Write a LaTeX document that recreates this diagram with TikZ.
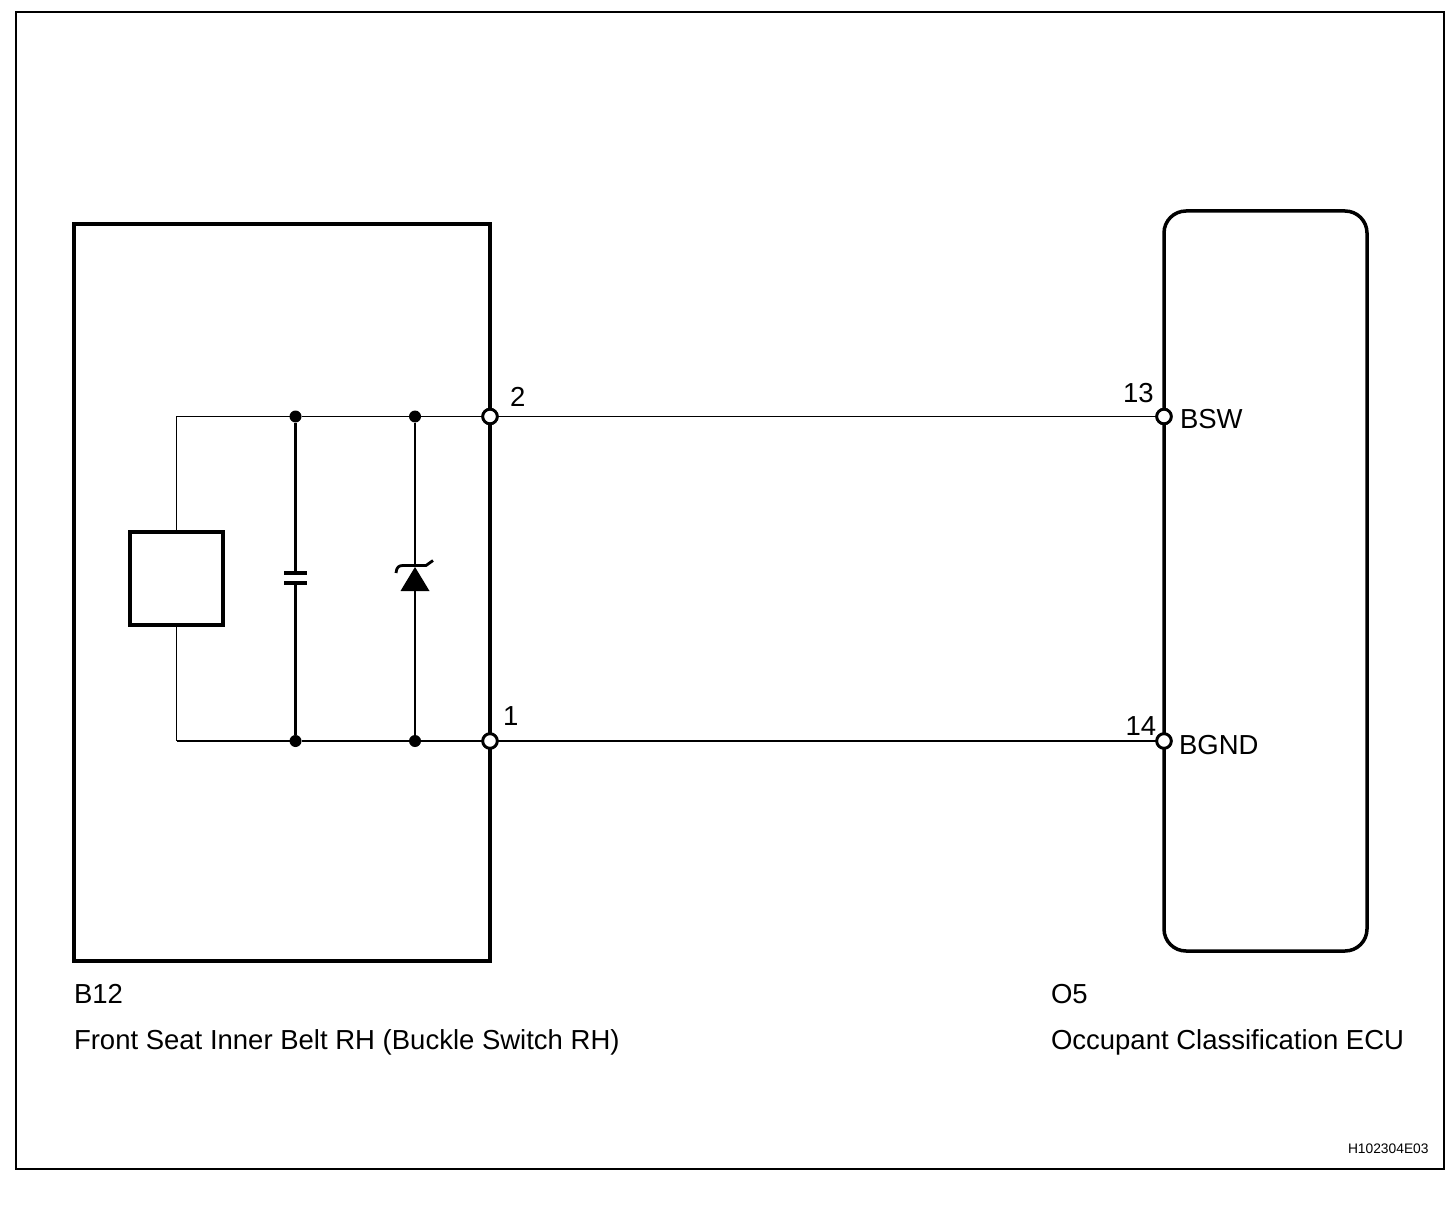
\documentclass[tikz,border=0pt]{standalone}
\usepackage{fontspec}
\setmainfont{Liberation Sans}
\begin{document}
\begin{tikzpicture}[x=1pt,y=-1pt,
  box/.style={draw=black,line width=3.5pt,inner sep=0pt,outer sep=0pt,anchor=north west},
  wirethin/.style={draw=black,line width=1.2pt},
  wirethick/.style={draw=black,line width=2.2pt},
  junction/.style={circle,fill=black,draw=none,minimum size=12pt,inner sep=0pt,outer sep=0pt},
  terminal/.style={circle,fill=white,draw=black,line width=2.8pt,minimum size=14.5pt,inner sep=0pt,outer sep=0pt},
  lbl/.style={anchor=base west,inner sep=0pt,outer sep=0pt,font=\fontsize{27.5}{30}\selectfont},
  tiny/.style={anchor=base west,inner sep=0pt,outer sep=0pt,font=\fontsize{13.8}{16}\selectfont},
  anchorpt/.style={inner sep=0pt,outer sep=0pt,minimum size=0pt}]
\useasboundingbox (0,0) rectangle (1456,1214);
\node[box,line width=2.2pt,minimum width=1428pt,minimum height=1157pt] (frame) at (16,12) {};

\coordinate (tl) at (176.5,416.5);
\coordinate (bl) at (176.5,741);
\node[box,minimum width=416pt,minimum height=737pt] (b12) at (74,224) {};
\node[box,rounded corners=22pt,minimum width=203pt,minimum height=740pt] (o5) at (1164,211) {};
\node[box,minimum width=93pt,minimum height=93pt] (sensor) at (130,532) {};

\node[junction] (j1) at (295.5,416.5) {};
\node[junction] (j2) at (415,416.5) {};
\node[junction] (j3) at (295.5,741) {};
\node[junction] (j4) at (415,741) {};
\node[terminal] (t2) at (490,416.5) {};
\node[terminal] (t1) at (490,741) {};
\node[terminal] (t13) at (1164,416.5) {};
\node[terminal] (t14) at (1164,741) {};

% capacitor plates
\node[anchorpt] (capa) at (295.5,573) {};
\node[anchorpt] (capb) at (295.5,583) {};
\draw[line width=3.5pt] (284,573) -- (307,573);
\draw[line width=3.5pt] (284,583) -- (307,583);
% zener
\node[anchorpt] (zbar) at (415,565) {};
\node[anchorpt] (zbase) at (415,590) {};
\fill (415,567) -- (429.5,591) -- (400.5,591) -- cycle;
\draw[line width=2.8pt] (396,573) .. controls (396.5,567) and (399,565.5) .. (403,565.5) -- (426,565.5) -- (433,560.5);

\draw[wirethin] (sensor.north -| tl) -- (tl) -- (j1) -- (j2) -- (t2) -- (t13);
\draw[wirethick] (bl) -- (j3) -- (j4) -- (t1) -- (t14);
\draw[wirethin] (sensor.south -| bl) -- (bl);
\draw[wirethick] (j1) -- (capa);
\draw[wirethick] (capb) -- (j3);
\draw[wirethick] (j2) -- (zbar);
\draw[wirethick] (zbase) -- (j4);

% terminals over the wires and the box edges
\node[terminal] at (t2) {};
\node[terminal] at (t1) {};
\node[terminal] at (t13) {};
\node[terminal] at (t14) {};

\node[lbl] (n2) at (510,406.5) {2};
\node[lbl] (n1) at (503,725.5) {1};
\node[lbl] (n13) at (1123,402.5) {13};
\node[lbl] (n14) at (1125.5,735.5) {14};
\node[lbl] (bsw) at (1180,428.5) {BSW};
\node[lbl] (bgnd) at (1179,754.5) {BGND};
\node[lbl] (b12l) at (74,1003) {B12};
\node[lbl] (b12n) at (74,1049) {Front Seat Inner Belt RH (Buckle Switch RH)};
\node[lbl] (o5l) at (1051,1003) {O5};
\node[lbl] (o5n) at (1051,1049) {Occupant Classification ECU};
\node[tiny] (code) at (1348,1153) {H102304E03};
\end{tikzpicture}
\end{document}
